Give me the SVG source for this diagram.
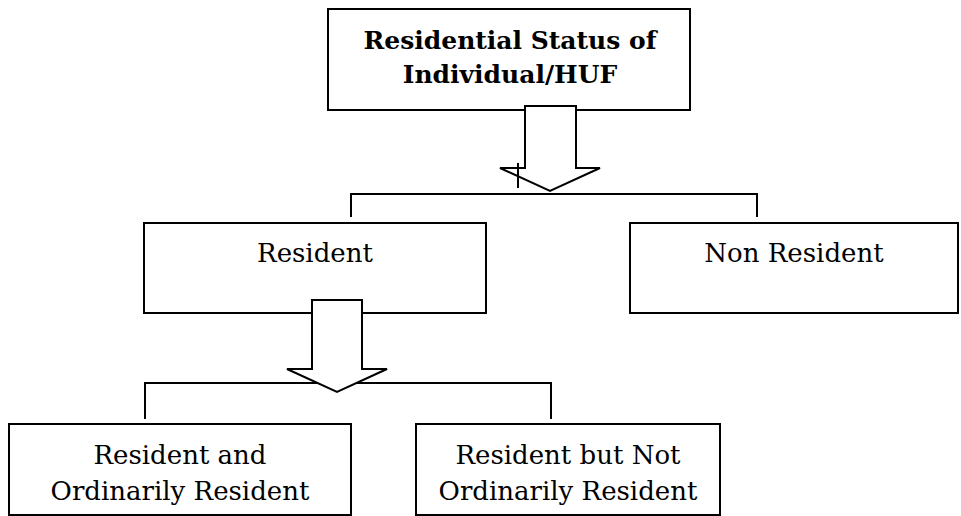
<svg xmlns="http://www.w3.org/2000/svg" width="961" height="516" viewBox="0 0 961 516">
<style>
.box{fill:#fff;stroke:#000;stroke-width:2}
.ln{fill:none;stroke:#000;stroke-width:2}
.barrow{fill:#fff;stroke:#000;stroke-width:2;stroke-linejoin:miter}
.t{font-family:"DejaVu Serif","Liberation Serif",serif;font-size:26px;fill:#000;text-anchor:middle}
.tb{font-family:"DejaVu Serif","Liberation Serif",serif;font-size:25px;font-weight:bold;fill:#000;text-anchor:middle}
</style>
<rect width="961" height="516" fill="#fff"/>
<g id="connectors">
<path class="ln" d="M351,217 V194 H757 V217"/>
<path class="ln" d="M145,419 V383 H551 V419"/>
</g>
<g id="node-top">
<rect class="box" x="328" y="9" width="362" height="101"/>
<text class="tb" x="510" y="49">Residential Status of</text>
<text class="tb" x="510" y="83">Individual/HUF</text>
</g>
<g id="node-resident">
<rect class="box" x="144" y="223" width="342" height="90"/>
<text class="t" x="315" y="262">Resident</text>
</g>
<g id="node-nonresident">
<rect class="box" x="630" y="223" width="328" height="90"/>
<text class="t" x="794" y="262">Non Resident</text>
</g>
<g id="node-ror">
<rect class="box" x="9" y="424" width="342" height="91"/>
<text class="t" x="180" y="464">Resident and</text>
<text class="t" x="180" y="500">Ordinarily Resident</text>
</g>
<g id="node-rnor">
<rect class="box" x="416" y="424" width="304" height="91"/>
<text class="t" x="568" y="464">Resident but Not</text>
<text class="t" x="568" y="500">Ordinarily Resident</text>
</g>
<g id="block-arrows">
<polygon class="barrow" points="525,106 576,106 576,168 600,168 550,191 500,168 525,168"/>
<line class="ln" x1="518" y1="163" x2="518" y2="188"/>
<polygon class="barrow" points="312,300 362,300 362,369 387,369 337,392 287,369 312,369"/>
</g>
</svg>
